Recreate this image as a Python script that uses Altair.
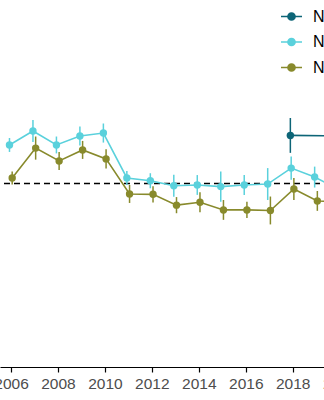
import altair as alt
import pandas as pd

# ---- data ----
years = list(range(2006, 2021))
series_names = ["NHANES", "NHIS", "NSDUH"]
series_colors = ["#0d6577", "#5ad1dc", "#888a2c"]

teal_years = [2018, 2020]
teal_values = [1.262, 1.26]
teal_errors = [0.095, 0.09]

cyan_values = [1.210, 1.286, 1.210, 1.259, 1.275, 1.030, 1.015, 0.988, 0.992,
               0.983, 0.992, 0.997, 1.084, 1.035, 0.97]
cyan_errors = [0.038, 0.060, 0.046, 0.052, 0.052, 0.038, 0.041, 0.060, 0.054,
               0.082, 0.054, 0.087, 0.063, 0.057, 0.06]

olive_values = [1.030, 1.193, 1.123, 1.183, 1.134, 0.943, 0.941, 0.882, 0.898,
                0.856, 0.856, 0.853, 0.970, 0.905, 0.90]
olive_errors = [0.035, 0.063, 0.049, 0.049, 0.052, 0.049, 0.044, 0.044, 0.054,
                0.054, 0.044, 0.076, 0.060, 0.054, 0.055]

reference_value = [1.0]
tick_years = list(range(2004, 2024, 2))

# small horizontal dodge per series (years)
dodge = {"NHANES": -0.1, "NHIS": -0.065, "NSDUH": 0.05}

rows = []
for s, ys, vs, es in [
    ("NHANES", teal_years, teal_values, teal_errors),
    ("NHIS", years, cyan_values, cyan_errors),
    ("NSDUH", years, olive_values, olive_errors),
]:
    for yr, v, e in zip(ys, vs, es):
        rows.append({"series": s, "year": yr, "value": v, "lo": v - e, "hi": v + e})
df = pd.DataFrame(rows)
df["xpos"] = df["year"] + df["series"].map(dodge)

FONT = "Liberation Sans"
legend_path = (
    "M-1,0L1,0"
    "M-0.34,0A0.34,0.34 0 1,0 0.34,0A0.34,0.34 0 1,0 -0.34,0"
    "M-0.22,0A0.22,0.22 0 1,0 0.22,0A0.22,0.22 0 1,0 -0.22,0"
    "M-0.11,0A0.11,0.11 0 1,0 0.11,0A0.11,0.11 0 1,0 -0.11,0"
    "M-0.03,0A0.03,0.03 0 1,0 0.03,0A0.03,0.03 0 1,0 -0.03,0"
)

x_enc = alt.X(
    "xpos:Q",
    scale=alt.Scale(domain=[2005.531, 2020.015], nice=False, zero=False),
    axis=alt.Axis(
        values=tick_years, format="d", title=None, grid=False,
        labelFont=FONT, labelFontSize=15.5, labelColor="#4d4d4d",
        labelPadding=4, labelFlush=False, labelOverlap=False,
        tickColor="black", tickSize=5, tickWidth=1.2,
        domainColor="black", domainWidth=1.2,
    ),
)
y_scale = alt.Scale(domain=[0, 2.0], nice=False, zero=False)
y_enc = alt.Y("value:Q", scale=y_scale, axis=None)
color_scale = alt.Scale(domain=series_names, range=series_colors)

base = alt.Chart(df)

ref = alt.Chart(pd.DataFrame({"ref": reference_value})).mark_rule(
    color="black", strokeDash=[6, 4], strokeWidth=1.4
).encode(y=alt.Y("ref:Q", scale=y_scale, axis=None))

lines = base.mark_line(strokeWidth=1.6, clip=True).encode(
    x=x_enc, y=y_enc,
    color=alt.Color(
        "series:N", scale=color_scale,
        legend=alt.Legend(
            title=None, orient="none", legendX=280, legendY=5, padding=0,
            symbolType=legend_path, symbolSize=441, symbolStrokeWidth=1.6,
            labelFont=FONT, labelFontSize=16, labelColor="black",
            labelOffset=10, rowPadding=5.5,
        ),
    ),
    order="xpos:Q",
)

bars = base.mark_rule(strokeWidth=1.5, clip=True).encode(
    x=x_enc,
    y=alt.Y("lo:Q", scale=y_scale, axis=None),
    y2="hi:Q",
    color=alt.Color("series:N", scale=color_scale, legend=None),
)

points = base.mark_circle(size=55, opacity=1, clip=True).encode(
    x=x_enc, y=y_enc,
    color=alt.Color("series:N", scale=color_scale, legend=None),
)

chart = alt.layer(ref, lines, bars, points).properties(
    width=340, height=367, autosize="none",
    padding={"left": 0, "right": -16, "top": 0, "bottom": 33},
    background="white",
).configure_view(stroke=None)

chart.save("out.html", embed_options={"renderer": "svg", "actions": False})
